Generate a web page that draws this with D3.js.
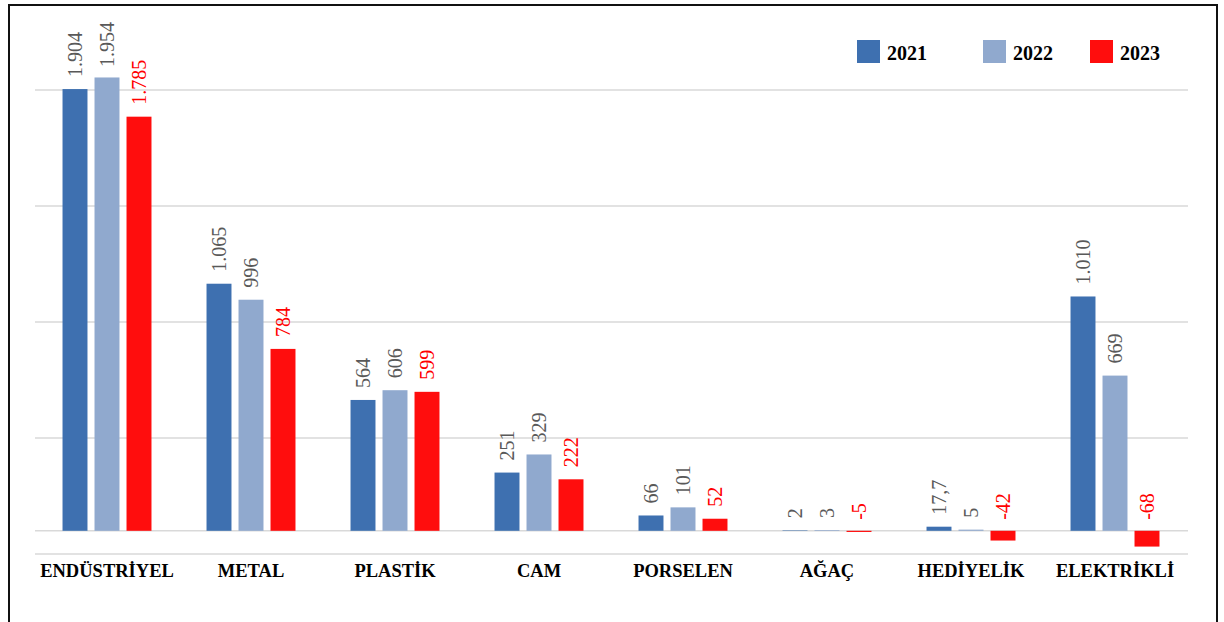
<!DOCTYPE html>
<html>
<head>
<meta charset="utf-8">
<script src="https://d3js.org/d3.v7.min.js"></script>
<style>
body { margin: 0; background: #fff; }
text { font-family: "Liberation Serif", "Times New Roman", serif; }
.grid line { stroke: #d9d9d9; stroke-width: 1.5; }
.cat { font-weight: bold; font-size: 18.5px; fill: #000; }
</style>
</head>
<body>
<div id="chart"></div>
<script>
// categories and yearly values
var categories = ['ENDÜSTRİYEL', 'METAL', 'PLASTİK', 'CAM', 'PORSELEN', 'AĞAÇ', 'HEDİYELİK', 'ELEKTRİKLİ'];
var years = ['2021', '2022', '2023'];
var v2021 = [1904, 1065, 564, 251, 66, 2, 17.7, 1010];
var v2022 = [1954, 996, 606, 329, 101, 3, 5, 669];
var v2023 = [1785, 784, 599, 222, 52, -5, -42, -68];
var l2021 = ['1.904', '1.065', '564', '251', '66', '2', '17,7', '1.010'];
var l2022 = ['1.954', '996', '606', '329', '101', '3', '5', '669'];
var l2023 = ['1.785', '784', '599', '222', '52', '-5', '-42', '-68'];
var gridTicks = [-100, 400, 900, 1400, 1900];

var colors = {'2021': '#3e70b0', '2022': '#90a9ce', '2023': '#ff0d0d'};
var labelColors = {'2021': '#595959', '2022': '#595959', '2023': '#ff0000'};

var width = 1224, height = 622;

var svg = d3.select('#chart').append('svg')
	.attr('width', width)
	.attr('height', height);

// outer frame
svg.append('rect')
	.attr('x', 9).attr('y', 5)
	.attr('width', 1208).attr('height', 640)
	.attr('fill', 'none')
	.attr('stroke', '#111')
	.attr('stroke-width', 2);

var x = d3.scaleBand()
	.domain(categories)
	.range([35, 1187]);

var x1 = d3.scaleBand()
	.domain(years)
	.range([0, x.bandwidth()])
	.paddingInner(0.22)
	.paddingOuter(0.86);

var y = d3.scaleLinear()
	.domain([-100, 1900])
	.range([554, 90]);

// gridlines
var grid = svg.append('g').attr('class', 'grid');
grid.selectAll('line.g')
	.data(gridTicks.concat([0]))
	.enter().append('line')
		.attr('x1', 35).attr('x2', 1188)
		.attr('y1', function(d) { return y(d); })
		.attr('y2', function(d) { return y(d); });

var rows = [];
categories.forEach(function(c, i) {
	rows.push({cat: c, year: '2021', v: v2021[i], label: l2021[i]});
	rows.push({cat: c, year: '2022', v: v2022[i], label: l2022[i]});
	rows.push({cat: c, year: '2023', v: v2023[i], label: l2023[i]});
});

svg.selectAll('.bar')
	.data(rows)
	.enter().append('rect')
		.attr('class', 'bar')
		.attr('x', function(d) { return x(d.cat) + x1(d.year); })
		.attr('width', x1.bandwidth())
		.attr('y', function(d) { return y(Math.max(0, d.v)); })
		.attr('height', function(d) { return Math.abs(y(d.v) - y(0)); })
		.attr('fill', function(d) { return colors[d.year]; });

// value labels, rotated
svg.selectAll('.val')
	.data(rows)
	.enter().append('text')
		.attr('class', 'val')
		.style('font-family', '"Liberation Serif", serif')
		.style('font-size', '20px')
		.attr('fill', function(d) { return labelColors[d.year]; })
		.attr('dominant-baseline', 'central')
		.text(function(d) { return d.label; })
		.each(function(d) {
			var len = this.getComputedTextLength();
			var cx = x(d.cat) + x1(d.year) + x1.bandwidth() / 2;
			var start = d.v < 0 ? y(0) - 11 : y(d.v) - 12;
			if (start - len < 22) start = 22 + len;
			d3.select(this).attr('transform', 'translate(' + cx + ',' + start + ') rotate(-90)');
		});

// category labels
svg.selectAll('.cat')
	.data(categories)
	.enter().append('text')
		.attr('class', 'cat')
		.attr('x', function(d) { return x(d) + x.bandwidth() / 2; })
		.attr('y', 577)
		.attr('text-anchor', 'middle')
		.text(function(d) { return d; });

// legend
var legendX = [857, 983, 1090];
var legend = svg.selectAll('.legend')
	.data(years)
	.enter().append('g')
		.attr('transform', function(d, i) { return 'translate(' + legendX[i] + ',40)'; });
legend.append('rect')
	.attr('width', 23).attr('height', 23)
	.attr('fill', function(d) { return colors[d]; });
legend.append('text')
	.attr('x', 30).attr('y', 20)
	.style('font-weight', 'bold')
	.style('font-size', '20px')
	.text(function(d) { return d; });
</script>
</body>
</html>
